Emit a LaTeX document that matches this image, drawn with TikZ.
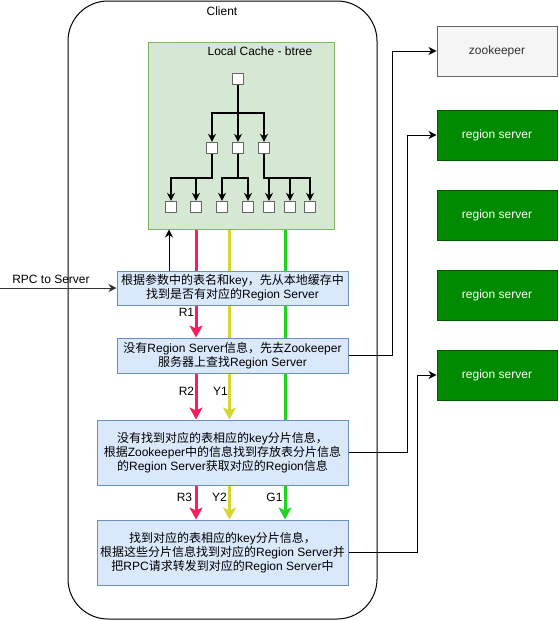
\documentclass[tikz,border=0pt]{standalone}
\usepackage{fontspec}
\setmainfont{Liberation Sans}
\newfontfamily\cjk{Noto Sans CJK SC}
\newcommand{\zh}[1]{{\cjk #1}}
\usetikzlibrary{arrows.meta,calc}
\pgfdeclarelayer{bg}
\pgfsetlayers{bg,main}
\definecolor{cachefill}{HTML}{D5E8D4}
\definecolor{cachedraw}{HTML}{82B366}
\definecolor{bluefill}{HTML}{DAE8FC}
\definecolor{bluedraw}{HTML}{6C8EBF}
\definecolor{rsfill}{HTML}{008A00}
\definecolor{rsdraw}{HTML}{005700}
\definecolor{zkfill}{HTML}{F5F5F5}
\definecolor{zkdraw}{HTML}{666666}
\definecolor{zktext}{HTML}{333333}
\definecolor{redline}{HTML}{FF1A5C}
\definecolor{yelline}{HTML}{D6D633}
\definecolor{grnline}{HTML}{22D422}
\tikzset{
  txt/.style={font=\fontsize{12}{14}\selectfont, inner sep=0pt},
  bluebox/.style={draw=bluedraw, fill=bluefill, line width=1pt, align=center,
     font=\fontsize{12}{14}\selectfont, inner sep=0pt},
  rsbox/.style={draw=rsdraw, fill=rsfill, line width=1pt, text=white,
     minimum width=120pt, minimum height=50pt, font=\fontsize{12}{14}\selectfont},
  zkbox/.style={draw=zkdraw, fill=zkfill, line width=1pt, text=zktext,
     minimum width=120pt, minimum height=50pt, font=\fontsize{12}{14}\selectfont},
  sq/.style={draw=zkdraw, fill=white, line width=1.3pt, minimum size=11pt, inner sep=0pt},
  tarrow/.style={line width=1.3pt, -{Stealth[length=8pt,width=8pt,inset=2.5pt]}},
  thin/.style={line width=1pt, -{Stealth[length=8pt,width=8pt,inset=2.5pt]}},
  fat/.style={line width=3pt, -{Stealth[length=12pt,width=13pt,inset=3pt]}},
}
\begin{document}
\begin{tikzpicture}[x=1pt,y=-1pt]
\useasboundingbox (0,0) rectangle (558,621);
% client container
\begin{pgfonlayer}{bg}
\draw[line width=1pt, rounded corners=40pt] (68,1) rectangle (377,619);
\end{pgfonlayer}
\node[txt] (client) at (222,11) {Client};
% local cache
\node[draw=cachedraw, fill=cachefill, line width=1pt, minimum width=186pt, minimum height=187pt, inner sep=0pt] (cache) at (241,135.5) {};
\node[txt] (cachetitle) at (260,51) {Local Cache - btree};
% tree
\node[sq] (root) at (238,79) {};
\node[sq] (m1) at (212,148) {};
\node[sq] (m2) at (238,148) {};
\node[sq] (m3) at (264,148) {};
\node[sq] (b1) at (171,207) {};
\node[sq] (b2) at (196,207) {};
\node[sq] (b3) at (222,207) {};
\node[sq] (b4) at (248,207) {};
\node[sq] (b5) at (269,207) {};
\node[sq] (b6) at (290,207) {};
\node[sq] (b7) at (310,207) {};
\coordinate (h1) at (0,113);
\coordinate (h2) at (0,178);
\draw[tarrow] (root.south) -- (root.south |- h1) -| (m1.north);
\draw[tarrow] (root.south) -- (m2.north);
\draw[tarrow] (root.south) -- (root.south |- h1) -| (m3.north);
\draw[tarrow] (m1.south) -- (m1.south |- h2) -| (b1.north);
\draw[tarrow] (m1.south) -- (m1.south |- h2) -| (b2.north);
\draw[tarrow] (m2.south) -- (m2.south |- h2) -| (b3.north);
\draw[tarrow] (m2.south) -- (m2.south |- h2) -| (b4.north);
\draw[tarrow] (m3.south) -- (m3.south |- h2) -| (b5.north);
\draw[tarrow] (m3.south) -- (m3.south |- h2) -| (b6.north);
\draw[tarrow] (m3.south) -- (m3.south |- h2) -| (b7.north);
% blue boxes
\node[bluebox, minimum width=231pt, minimum height=34pt] (box1) at (232.5,288)
  {\zh{根据参数中的表名和}key\zh{，先从本地缓存中}\\\zh{找到是否有对应的}Region Server};
\node[bluebox, minimum width=231pt, minimum height=35pt] (box2) at (232.5,355.5)
  {\zh{没有}Region Server\zh{信息，先去}Zookeeper\\\zh{服务器上查找}Region Server};
\node[bluebox, minimum width=251pt, minimum height=65pt] (box3) at (222.5,452.5)
  {\zh{没有找到对应的表相应的}key\zh{分片信息，}\\\zh{根据}Zookeeper\zh{中的信息找到存放表分片信息}\\\zh{的}Region Server\zh{获取对应的}Region\zh{信息}};
\node[bluebox, minimum width=251pt, minimum height=65pt] (box4) at (222.5,552.5)
  {\zh{找到对应的表相应的}key\zh{分片信息，}\\\zh{根据这些分片信息找到对应的}Region Server\zh{并}\\\zh{把}RPC\zh{请求转发到对应的}Region Server\zh{中}};
% right side boxes
\node[zkbox] (zk) at (497,51) {zookeeper};
\node[rsbox] (rs1) at (497,135) {region server};
\node[rsbox] (rs2) at (497,215) {region server};
\node[rsbox] (rs3) at (497,295) {region server};
\node[rsbox] (rs4) at (497,375) {region server};
% coloured flows (behind boxes)
\coordinate (rx) at (196,0);
\coordinate (yx) at (229.5,0);
\coordinate (gx) at (285,0);
\begin{pgfonlayer}{bg}
\draw[fat, redline] (cache.south -| rx) -- (box2.north -| rx);
\draw[fat, yelline] (cache.south -| yx) -- (box3.north -| yx);
\draw[fat, grnline] (cache.south -| gx) -- (box4.north -| gx);
\end{pgfonlayer}
\draw[fat, redline] (box2.south -| rx) -- (box3.north -| rx);
\draw[fat, redline] (box3.south -| rx) -- (box4.north -| rx);
\draw[fat, yelline] (box3.south -| yx) -- (box4.north -| yx);
\node[txt] (lr1) at (186.5,312) {R1};
\node[txt] (lr2) at (186.5,391.5) {R2};
\node[txt] (ly1) at (220.5,391.5) {Y1};
\node[txt] (lr3) at (184.5,497.5) {R3};
\node[txt] (ly2) at (219.5,497.5) {Y2};
\node[txt] (lg1) at (274.5,497) {G1};
% box1 -> cache
\coordinate (ux) at (169,0);
\draw[thin] (box1.north -| ux) -- (cache.south -| ux);
% RPC input
\coordinate (rpcin) at (0,288);
\node[txt] (rpclabel) at (51,279) {RPC to Server};
\draw[thin, draw=zktext] (rpcin) -- (box1.west);
% connectors to the right
\coordinate (c1) at (392.5,0);
\coordinate (c2) at (407.5,0);
\coordinate (c3) at (417.5,0);
\draw[thin] (box2.east) -- (box2.east -| c1) |- (zk.west);
\draw[thin] (box3.east) -- (box3.east -| c2) |- (rs1.west);
\draw[thin] (box4.east) -- (box4.east -| c3) |- (rs4.west);
\end{tikzpicture}
\end{document}
